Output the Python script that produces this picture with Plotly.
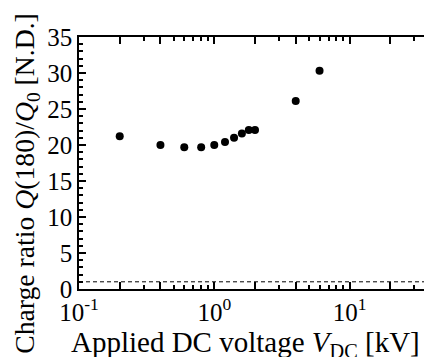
import plotly.graph_objects as go
import math

# Data
voltage_kv = [0.2, 0.4, 0.6, 0.8, 1.0, 1.2, 1.4, 1.6, 1.8, 2.0, 4.0, 6.0]
charge_ratio = [21.2, 20.0, 19.7, 19.7, 20.0, 20.4, 21.0, 21.6, 22.1, 22.1, 26.1, 30.3]
ref_ratio = 1.0

x_major = [0.1, 0.2, 0.4, 1, 2, 4, 10, 20, 40]
x_major_text = ["10<sup>-1</sup>", "", "", "10<sup>0</sup>", "", "", "10<sup>1</sup>", "", ""]
x_minor = [0.3, 0.5, 0.6, 0.7, 0.8, 0.9, 3, 5, 6, 7, 8, 9, 30]
y_major_step = 5
y_minor_step = 1

x_range = [-1, math.log10(40)]
y_range = [0, 35]

FONT = "Times New Roman"
W, H = 432, 357
ML, MR, MT, MB = 71, 7, 29, 76

fig = go.Figure()
fig.add_trace(go.Scatter(x=voltage_kv, y=charge_ratio, mode="markers",
                         marker=dict(color="black", size=8), showlegend=False,
                         cliponaxis=False))

fig.add_hline(y=ref_ratio, line=dict(color="black", width=1, dash="4px,3px"))

fig.update_layout(
    width=W, height=H,
    margin=dict(l=ML, r=MR, t=MT, b=MB),
    paper_bgcolor="white", plot_bgcolor="white",
    font=dict(family=FONT, color="black", size=25),
)
fig.update_xaxes(type="log", range=x_range, showgrid=False, zeroline=False,
                 showline=True, linecolor="black", linewidth=1.5, mirror="allticks",
                 tickmode="array", tickvals=x_major, ticktext=x_major_text,
                 ticks="inside", ticklen=7, tickwidth=1.5, tickcolor="black",
                 tickfont_family=FONT, tickfont_size=25,
                 minor_tickmode="array", minor_tickvals=x_minor, minor_ticks="inside",
                 minor_ticklen=4, minor_tickwidth=1.5, minor_tickcolor="black")
fig.update_yaxes(range=y_range, showgrid=False, zeroline=False,
                 showline=True, linecolor="black", linewidth=1.5, mirror="allticks",
                 tickmode="linear", tick0=0, dtick=y_major_step,
                 ticks="inside", ticklen=7, tickwidth=1.5, tickcolor="black",
                 tickfont_family=FONT, tickfont_size=25,
                 minor_dtick=y_minor_step, minor_ticks="inside",
                 minor_ticklen=4, minor_tickwidth=1.5, minor_tickcolor="black")

# Page has an 8px body margin; positions below are in figure coordinates
pw = W - ML - MR
ph = H - MT - MB
fig.add_annotation(text="Applied DC voltage <i>V</i><sub>DC</sub> [kV]",
                   xref="paper", yref="paper",
                   x=(238.5 - ML) / pw, y=(H - MB - 336) / ph,
                   xanchor="center", yanchor="middle", showarrow=False,
                   font=dict(family=FONT, size=29, color="black"))
fig.add_annotation(text="Charge ratio <i>Q</i>(180)/<i>Q</i><sub>0</sub> [N.D.]",
                   xref="paper", yref="paper",
                   x=(18 - ML) / pw, y=(H - MB - 175.5) / ph,
                   xanchor="center", yanchor="middle", showarrow=False,
                   textangle=-90,
                   font=dict(family=FONT, size=27.7, color="black"))

fig.write_html("out.html")
